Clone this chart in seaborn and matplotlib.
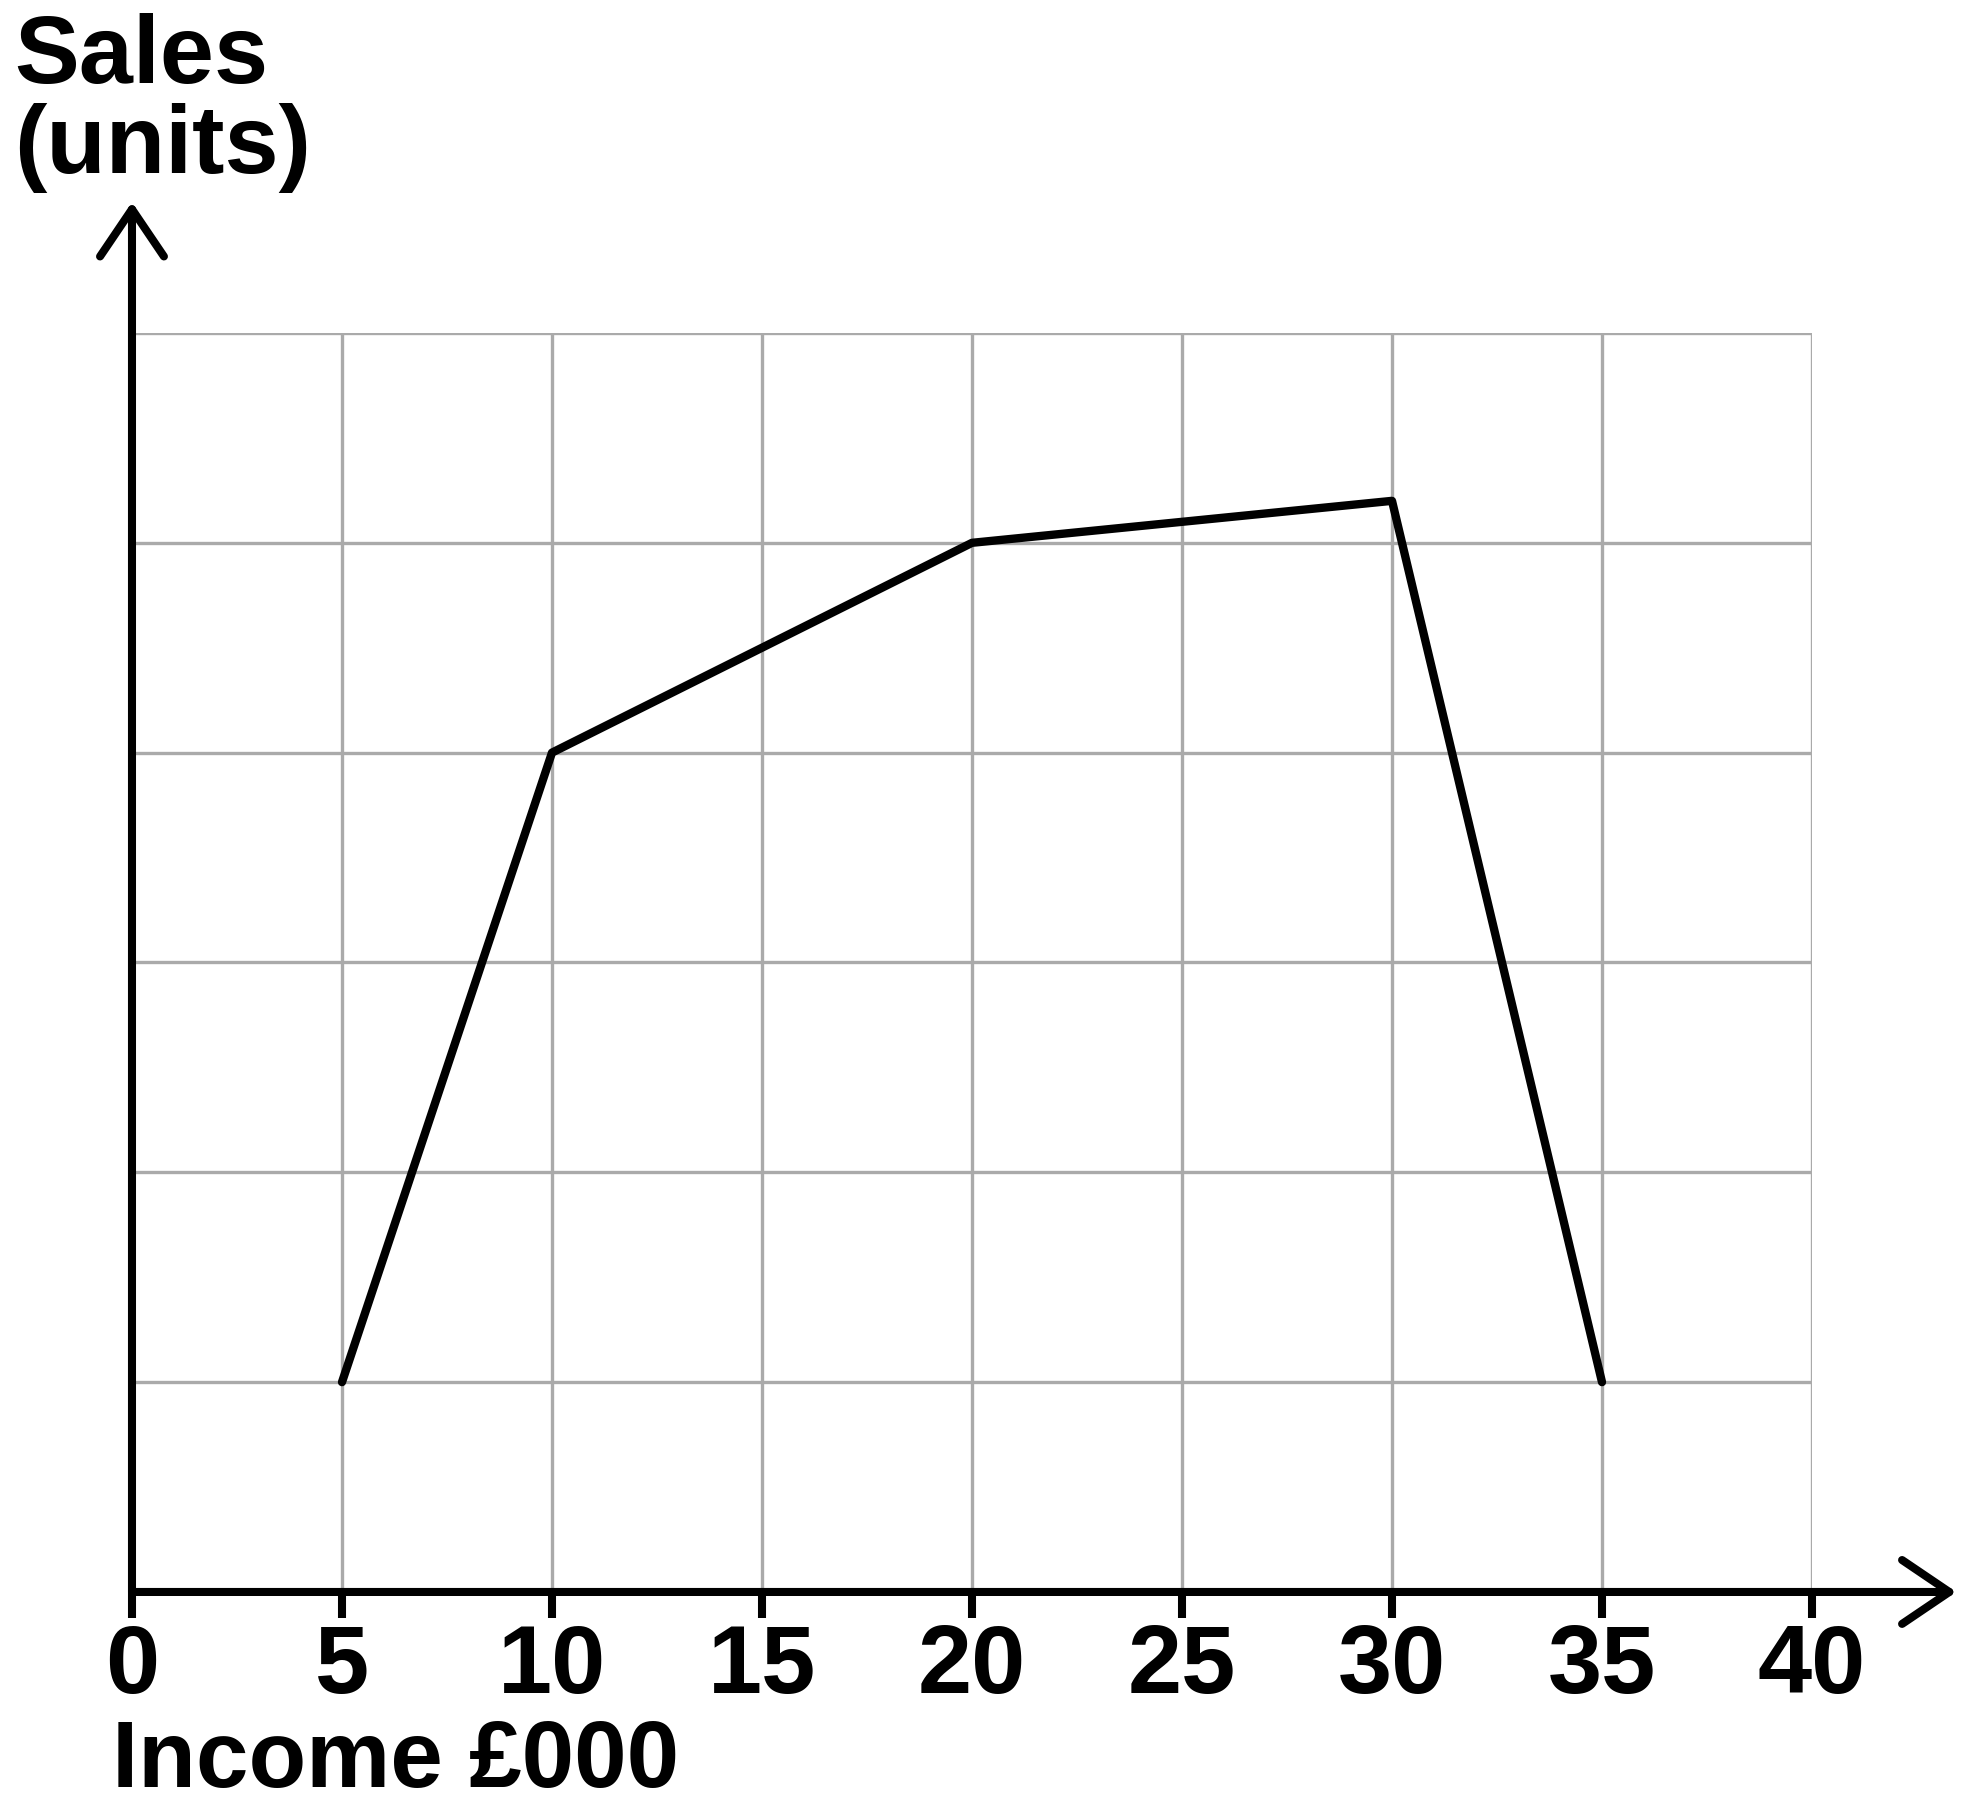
import matplotlib
matplotlib.use("Agg")
import matplotlib.pyplot as plt
import seaborn as sns

# data
income = [5, 10, 20, 30, 35]
sales = [1, 4, 5, 5.2, 1]
x_ticks = [0, 5, 10, 15, 20, 25, 30, 35, 40]
y_grid = [1, 2, 3, 4, 5, 6]

sns.set_style("white")
plt.rcParams['font.family'] = ['Liberation Sans', 'DejaVu Sans']
plt.rcParams['font.weight'] = 'bold'
plt.rcParams['text.color'] = 'black'
plt.rcParams['xtick.color'] = 'black'

fig = plt.figure(figsize=(19.7, 17.96), dpi=100)
ax = fig.add_axes([0.067, 0.1136, 0.8528, 0.701])

sns.lineplot(x=income, y=sales, color='black', linewidth=6, ax=ax, zorder=5)

ax.set_xlim(0, 40)
ax.set_ylim(0, 6)
ax.set_xticks(x_ticks)
ax.set_yticks(y_grid)
ax.set_yticklabels([])
ax.tick_params(axis='y', length=0)
ax.tick_params(axis='x', bottom=True, length=19, width=5.8, color='black',
               labelcolor='black', pad=3, labelsize=70)
for lbl in ax.get_xticklabels():
    lbl.set_fontweight('bold')
ax.grid(True, color='#aaaaaa', linewidth=2.4)
ax.set_axisbelow(True)

for s in ax.spines.values():
    s.set_visible(False)

# axes with arrow heads
arrow = dict(arrowstyle='->,head_length=1.7,head_width=1.15', lw=5.8,
             color='black', mutation_scale=20, shrinkA=0, shrinkB=0)
ax.annotate('', xy=(0, 1.104), xytext=(0, 0), xycoords='axes fraction',
            arrowprops=arrow, annotation_clip=False)
ax.annotate('', xy=(1.086, 0), xytext=(0, 0), xycoords='axes fraction',
            arrowprops=arrow, annotation_clip=False)

fig.text(0.007, 0.993, 'Sales\n(units)', fontsize=70, fontweight='bold',
         color='black', ha='left', va='top', linespacing=1.0)
fig.text(0.057, 0.005, 'Income £000', fontsize=68, fontweight='bold',
         color='black', ha='left', va='baseline')

fig.savefig('out.png', dpi=100)
